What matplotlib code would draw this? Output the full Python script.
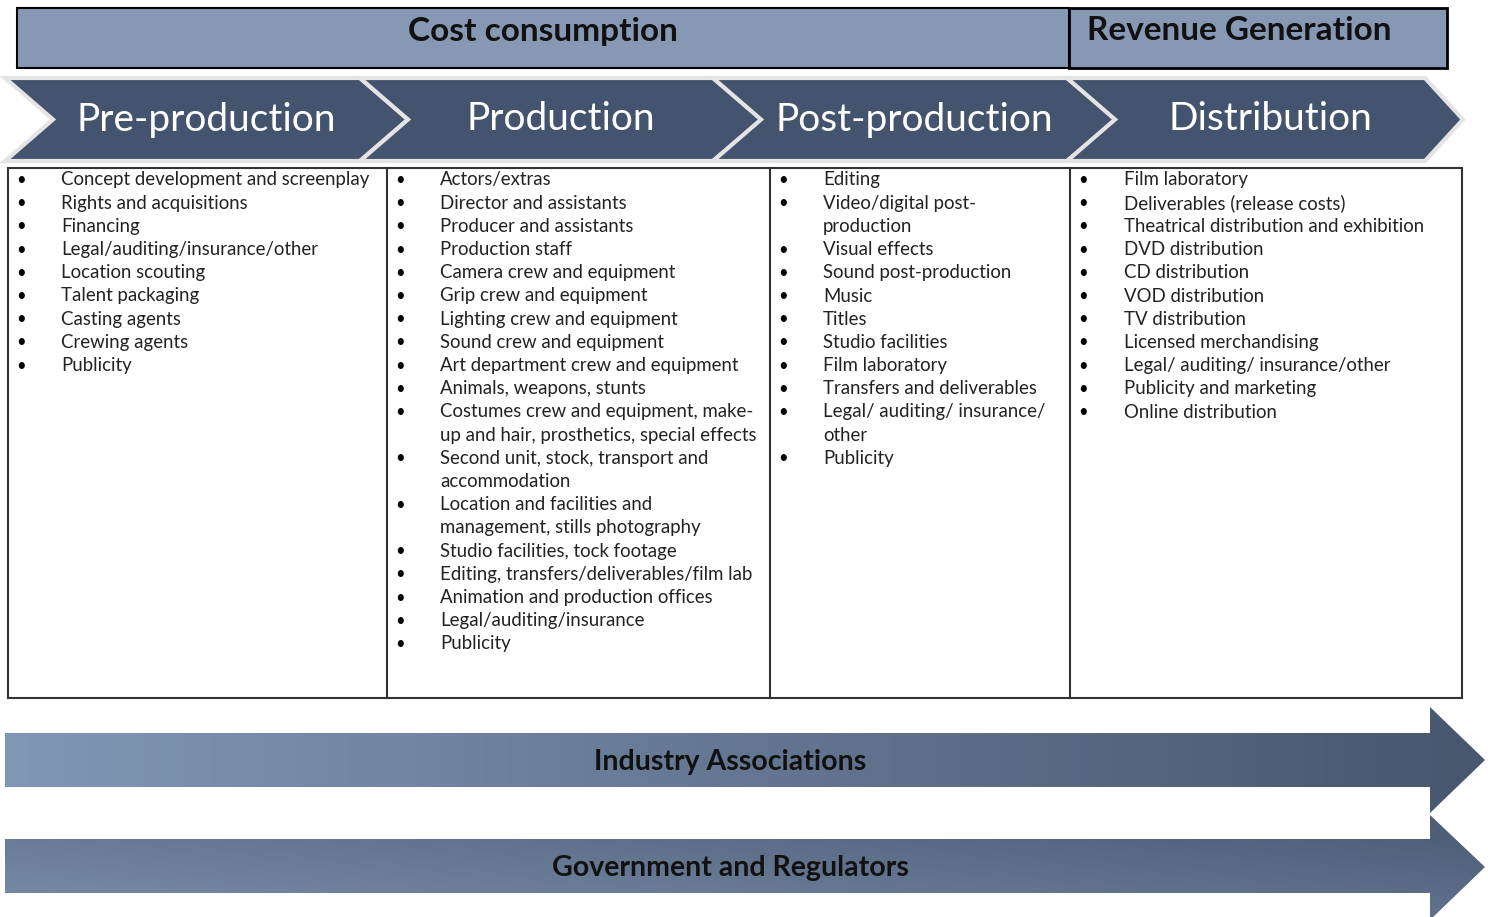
#!/usr/bin/env python3
"""Film value chain diagram: cost/revenue header, stage chevrons, item lists, bottom arrows."""
import numpy as np
import matplotlib
matplotlib.use('Agg')
import matplotlib.pyplot as plt
from matplotlib.patches import Polygon, Rectangle

plt.rcParams['font.family'] = ['Lato', 'DejaVu Sans']

# --- content ---
header_labels = ['Cost consumption', 'Revenue Generation']
stages = ['Pre-production', 'Production', 'Post-production', 'Distribution']

# '\n' marks a wrapped continuation line (no bullet)
pre_items = [
    'Concept development and screenplay', 'Rights and acquisitions', 'Financing',
    'Legal/auditing/insurance/other', 'Location scouting', 'Talent packaging',
    'Casting agents', 'Crewing agents', 'Publicity',
]
prod_items = [
    'Actors/extras', 'Director and assistants', 'Producer and assistants',
    'Production staff', 'Camera crew and equipment', 'Grip crew and equipment',
    'Lighting crew and equipment', 'Sound crew and equipment',
    'Art department crew and equipment', 'Animals, weapons, stunts',
    'Costumes crew and equipment, make-\nup and hair, prosthetics, special effects',
    'Second unit, stock, transport and\naccommodation',
    'Location and facilities and\nmanagement, stills photography',
    'Studio facilities, tock footage', 'Editing, transfers/deliverables/film lab',
    'Animation and production offices', 'Legal/auditing/insurance', 'Publicity',
]
post_items = [
    'Editing', 'Video/digital post-\nproduction', 'Visual effects',
    'Sound post-production', 'Music', 'Titles', 'Studio facilities',
    'Film laboratory', 'Transfers and deliverables',
    'Legal/ auditing/ insurance/\nother', 'Publicity',
]
dist_items = [
    'Film laboratory', 'Deliverables (release costs)',
    'Theatrical distribution and exhibition', 'DVD distribution',
    'CD distribution', 'VOD distribution', 'TV distribution',
    'Licensed merchandising', 'Legal/ auditing/ insurance/other',
    'Publicity and marketing', 'Online distribution',
]
columns = [pre_items, prod_items, post_items, dist_items]
bottom_labels = ['Industry Associations', 'Government and Regulators']

# --- styling / layout (pixel coords) ---
W, H = 1488, 917
HEADER_FILL = '#8698b3'
CHEVRON_FILL = '#45546e'
CHEVRON_EDGE = '#e4e4e4'

fig = plt.figure(figsize=(W / 100, H / 100), dpi=100)
ax = fig.add_axes([0, 0, 1, 1])
ax.set_xlim(0, W)
ax.set_ylim(H, 0)
ax.axis('off')

# header boxes
ax.add_patch(Rectangle((17, 8), 1052, 60, facecolor=HEADER_FILL, edgecolor='black', lw=1.5))
ax.add_patch(Rectangle((1069, 8), 378, 60, facecolor=HEADER_FILL, edgecolor='black', lw=2))
ax.text(543, 31, header_labels[0], ha='center', va='center', fontsize=24,
        fontweight='bold', color='#111111')
ax.text(1239, 31, header_labels[1], ha='center', va='center', fontsize=24,
        fontweight='bold', color='#111111')

# chevrons
chev_x = [5, 360, 713, 1067]
chev_body = [360, 713, 1067, 1425]
chev_tip = [408, 762, 1117, 1463]
y_top, y_bot = 78, 161
y_mid = (y_top + y_bot) / 2
for i, name in enumerate(stages):
    x0, xb, xt = chev_x[i], chev_body[i], chev_tip[i]
    notch = x0 + 48
    pts = [(x0, y_top), (xb, y_top), (xt, y_mid), (xb, y_bot), (x0, y_bot), (notch, y_mid)]
    ax.add_patch(Polygon(pts, closed=True, facecolor=CHEVRON_FILL,
                         edgecolor=CHEVRON_EDGE, lw=3, joinstyle='miter'))
    cx = (notch + xb) / 2
    ax.text(cx, y_mid, name, ha='center', va='center', fontsize=28, color='white')

# table
ax.add_patch(Rectangle((8, 168), 1454, 530, facecolor='white', edgecolor='#333333', lw=1.5))
for xd in [387, 770, 1070]:
    ax.plot([xd, xd], [168, 698], color='#333333', lw=1.5)

bullet_x = [21, 400, 783, 1083]
text_x = [61, 440, 823, 1124]
line_h = 23.2
first_y = 180
for ci, items in enumerate(columns):
    row = 0
    for item in items:
        parts = item.split('\n')
        ax.text(bullet_x[ci], first_y + row * line_h, '\u2022', ha='center', va='center',
                fontsize=12, color='black')
        for p in parts:
            ax.text(text_x[ci], first_y + row * line_h, p, ha='left', va='center',
                    fontsize=13.4, color='#222222')
            row += 1

# bottom gradient arrows
def grad_arrow(body_top, body_bot, head_top, head_bot, tip_y, c_a, c_b, diagonal=False):
    pts = [(5, body_top), (1430, body_top), (1430, head_top), (1485, tip_y),
           (1430, head_bot), (1430, body_bot), (5, body_bot)]
    poly = Polygon(pts, closed=True, facecolor='none', edgecolor='none')
    ax.add_patch(poly)
    nx, ny = 300, 60
    gx = np.linspace(0, 1, nx)[None, :]
    gy = np.linspace(0, 1, ny)[:, None]
    if diagonal:
        t = np.clip(0.55 * gx + 0.45 * (1 - gy), 0, 1)
    else:
        t = np.repeat(gx, ny, axis=0)
    a = np.array(matplotlib.colors.to_rgb(c_a))
    b = np.array(matplotlib.colors.to_rgb(c_b))
    img = a[None, None, :] * (1 - t[..., None]) + b[None, None, :] * t[..., None]
    im = ax.imshow(img, extent=(5, 1485, head_bot, head_top), origin='upper',
                   aspect='auto', interpolation='bilinear')
    im.set_clip_path(poly)

grad_arrow(733, 787, 707, 813, 760, '#8097b5', '#48566e')
grad_arrow(839, 893, 815, 920, 867, '#7a8eab', '#4c5a73', diagonal=True)
ax.set_xlim(0, W)
ax.set_ylim(H, 0)

ax.text(730, 762, bottom_labels[0], ha='center', va='center', fontsize=20.5,
        fontweight='bold', color='#111111')
ax.text(730, 868, bottom_labels[1], ha='center', va='center', fontsize=20.5,
        fontweight='bold', color='#111111')

fig.savefig('out.png', dpi=100, facecolor='white')
